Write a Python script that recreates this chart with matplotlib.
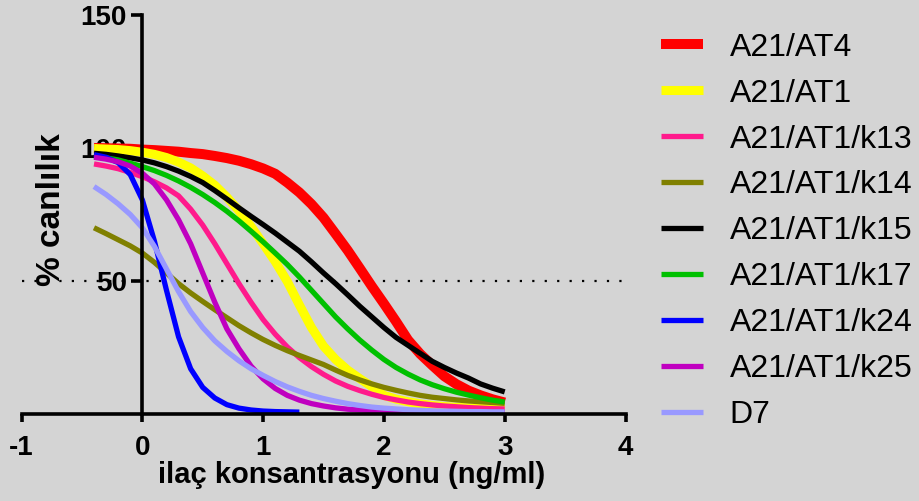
import numpy as np
import matplotlib
matplotlib.use('Agg')
from matplotlib import pyplot as plt

plt.rcParams['font.family'] = ['Liberation Sans', 'DejaVu Sans']
plt.rcParams['axes.unicode_minus'] = False

# log concentration grid
conc = [-0.4, -0.3, -0.2, -0.1, 0.0, 0.1, 0.2, 0.3, 0.4, 0.5, 0.6, 0.7,
        0.8, 0.9, 1.0, 1.1, 1.2, 1.3, 1.4, 1.5, 1.6, 1.7, 1.8, 1.9, 2.0,
        2.1, 2.2, 2.3, 2.4, 2.5, 2.6, 2.7, 2.8, 2.9, 3.0]

at4 = [100.0, 99.9, 99.8, 99.7, 99.4, 99.2, 98.9, 98.6, 98.1, 97.7, 97.0, 96.2,
       95.2, 93.9, 92.3, 90.3, 87.0, 83.3, 78.9, 73.8, 67.7, 61.5, 54.8, 48.0, 41.5,
       34.8, 27.8, 22.6, 18.3, 14.2, 11.2, 8.8, 7.0, 5.5, 4.3]
at1 = [99.8, 99.6, 99.4, 99.0, 98.4, 97.6, 96.4, 94.7, 92.5, 89.5, 86.0, 81.5,
       76.4, 70.5, 64.0, 57.3, 49.8, 41.0, 32.5, 25.5, 20.5, 16.5, 13.3, 10.3, 7.0,
       5.6, 4.6, 3.8, 3.2, 2.8, 2.5, 2.3, 2.1, 2.0, 1.9]
k13 = [94.0, 93.2, 92.2, 90.8, 89.2, 87.3, 85.0, 82.0, 77.0, 71.0, 64.0, 56.5,
       49.0, 42.0, 35.5, 30.0, 25.2, 21.2, 17.8, 14.9, 12.4, 10.4, 8.8, 7.4, 6.2,
       5.3, 4.5, 3.9, 3.4, 3.0, 2.7, 2.4, 2.2, 2.0, 1.9]
k14 = [70.0, 67.8, 65.5, 63.2, 60.5, 57.0, 53.0, 49.0, 45.5, 42.3, 39.2, 36.2,
       33.2, 30.5, 28.0, 25.8, 23.8, 22.0, 20.3, 18.6, 16.5, 14.5, 12.8, 11.3, 10.0,
       8.9, 7.9, 7.0, 6.3, 5.8, 5.3, 4.9, 4.6, 4.3, 4.0]
k15 = [98.0, 97.6, 97.0, 96.3, 95.5, 94.4, 93.0, 91.3, 89.3, 87.0, 84.0, 80.8,
       77.5, 74.3, 71.2, 68.0, 64.6, 61.2, 57.2, 53.0, 49.0, 44.8, 40.5, 36.5, 32.5,
       28.8, 25.8, 22.8, 19.8, 17.5, 15.4, 13.5, 11.3, 9.7, 8.3]
k17 = [97.0, 96.3, 95.5, 94.3, 93.0, 91.5, 89.7, 87.6, 85.2, 82.5, 79.5, 76.2,
       72.6, 68.7, 64.7, 60.5, 56.2, 51.5, 46.5, 41.5, 36.5, 32.0, 27.8, 24.0, 20.5,
       17.5, 15.0, 12.8, 11.0, 9.5, 8.2, 7.1, 6.1, 5.2, 4.5]
k24 = [97.5, 96.5, 94.5, 90.0, 80.5, 65.0, 46.5, 29.0, 17.0, 10.0, 6.0, 3.5,
       2.2, 1.5, 1.1, 0.9, 0.8, 0.7, np.nan, np.nan, np.nan, np.nan, np.nan, np.nan, np.nan,
       np.nan, np.nan, np.nan, np.nan, np.nan, np.nan, np.nan, np.nan, np.nan, np.nan]
k25 = [96.5, 95.8, 94.8, 93.2, 90.5, 86.5, 80.5, 73.0, 64.0, 53.0, 42.0, 32.0,
       24.5, 18.0, 13.2, 9.6, 7.0, 5.2, 3.9, 3.0, 2.3, 1.8, 1.5, 1.3, 1.1,
       1.0, 0.9, 0.9, 0.8, 0.8, 0.8, 0.7, 0.7, 0.7, 0.7]
d7 = [85.5, 82.5, 79.0, 75.0, 70.0, 63.0, 54.5, 46.0, 38.5, 32.5, 27.5, 23.5,
      20.0, 17.0, 14.5, 12.2, 10.2, 8.5, 7.0, 5.8, 4.8, 3.9, 3.2, 2.6, 2.2,
      1.9, 1.6, 1.4, 1.2, 1.1, 1.0, 0.9, 0.9, 0.8, 0.8]

labels = ['A21/AT4', 'A21/AT1', 'A21/AT1/k13', 'A21/AT1/k14', 'A21/AT1/k15',
          'A21/AT1/k17', 'A21/AT1/k24', 'A21/AT1/k25', 'D7']
series = [at4, at1, k13, k14, k15, k17, k24, k25, d7]
colors = ['#ff0000', '#ffff00', '#ff1a8c', '#808000', '#000000',
          '#00c000', '#0000ff', '#c000c0', '#9999ff']
widths = [7.2, 6.5, 3.8, 3.8, 3.8, 3.8, 3.8, 3.8, 3.8]

bg = '#d4d4d4'
fig = plt.figure(figsize=(9.2, 5.01), dpi=100, facecolor=bg)
ax = fig.add_axes([0.0234, 0.1737, 0.6565, 0.7964])
ax.set_facecolor(bg)

ax.axhline(50, color='black', lw=1.6, ls=(0, (1, 4.6)), zorder=1)
for y, lab, c, w in zip(series, labels, colors, widths):
    ax.plot(conc, y, color=c, lw=w, label=lab, solid_capstyle='butt')

ax.set_xlim(-1, 4)
ax.set_ylim(0, 150)
ax.set_xticks([-1, 0, 1, 2, 3, 4])
ax.set_yticks([50, 100, 150])

for s in ['top', 'right']:
    ax.spines[s].set_visible(False)
ax.spines['left'].set_position(('data', 0))
for s in ['left', 'bottom']:
    ax.spines[s].set_linewidth(2.6)
ax.tick_params(axis='x', length=6, width=2.6, pad=9, labelsize=20)
ax.tick_params(axis='y', length=8, width=2.6, pad=3, labelsize=20)
for t in ax.get_xticklabels() + ax.get_yticklabels():
    t.set_fontweight('bold')

ax.set_xlabel('ilaç konsantrasyonu (ng/ml)', fontsize=21, fontweight='bold')
ax.xaxis.set_label_coords(0.547, -0.118)
ax.set_ylabel('% canlılık', fontsize=24, fontweight='bold')
ax.yaxis.set_label_coords(0.075, 0.511)

leg = ax.legend(loc='upper left', bbox_to_anchor=(0.7185, 0.935),
                bbox_transform=fig.transFigure, frameon=False, fontsize=23,
                handlelength=1.3, handletextpad=0.85, labelspacing=0.5,
                borderpad=0, borderaxespad=0)

fig.savefig('out.png', dpi=100, facecolor=bg)
